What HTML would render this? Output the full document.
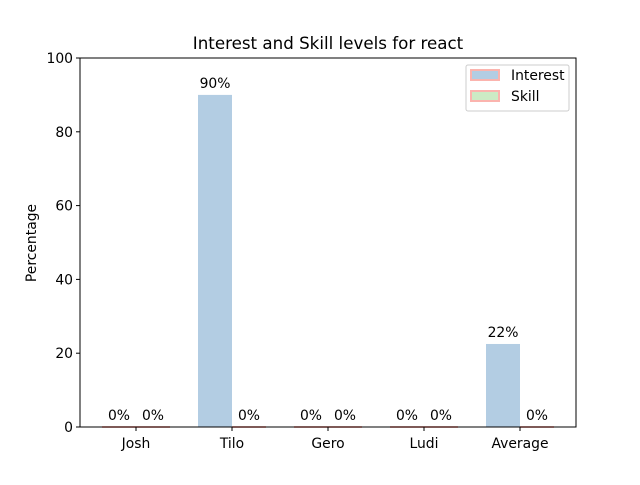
<!DOCTYPE html>
<html><head><meta charset="utf-8"><style>
body{margin:0;background:#fff}
text{font-family:"DejaVu Sans","Liberation Sans",sans-serif;fill:#000}
</style></head><body>
<svg width="640" height="480" xmlns="http://www.w3.org/2000/svg">
<rect width="640" height="480" fill="#fff"/>
<text x="328" y="49" font-size="16.7" text-anchor="middle">Interest and Skill levels for react</text>
<g id="bars"></g>
<g id="axes"></g>
<text transform="translate(36,243) rotate(-90)" font-size="13.9" text-anchor="middle">Percentage</text>
<g>
<rect x="466" y="65" width="103" height="46" fill="#fff" stroke="#ccc" rx="2"/>
<rect x="471" y="70" width="28" height="10" fill="#b3cde3" stroke="#fbb4ae" stroke-width="2"/>
<text x="511" y="80" font-size="13.9">Interest</text>
<rect x="471" y="91" width="28" height="10" fill="#ccebc5" stroke="#fbb4ae" stroke-width="2"/>
<text x="511" y="101" font-size="13.9">Skill</text>
</g>
<script>
const categories=["Josh","Tilo","Gero","Ludi","Average"];
const interest=[0,90,0,0,22.5];
const skill=[0,0,0,0,0];
const interestLabels=["0%","90%","0%","0%","22%"];
const skillLabels=["0%","0%","0%","0%","0%"];
const yTicks=[0,20,40,60,80,100];
const NS="http://www.w3.org/2000/svg";
const L=80,R=576,T=58,B=427;
const xs=i=>136+i*96;
const ys=v=>B-(v/100)*(B-T);
const bw=34;
function mk(tag,attrs,parent,txt){const e=document.createElementNS(NS,tag);for(const k in attrs)e.setAttribute(k,attrs[k]);if(txt!==undefined)e.textContent=txt;parent.appendChild(e);return e;}
const bars=document.getElementById('bars'),axes=document.getElementById('axes');
function drawBar(x0,v,fill,label,name){
  const y=ys(v);
  const r=mk('rect',{x:x0,y:y,width:bw,height:B-y,fill:fill},bars);
  
  
  if(v===0){mk('line',{x1:x0,x2:x0+bw,y1:B,y2:B,stroke:'#fbb4ae','stroke-width':2},bars);}
  const t=mk('text',{x:x0+bw/2,y:y-7,'font-size':13.9,'text-anchor':'middle'},bars,label);
  
  
}
categories.forEach((c,i)=>{
  drawBar(xs(i)-bw,interest[i],'#b3cde3',interestLabels[i],'bar-interest-'+c.toLowerCase());
  drawBar(xs(i),skill[i],'#ccebc5',skillLabels[i],'bar-skill-'+c.toLowerCase());
  mk('line',{x1:xs(i),x2:xs(i),y1:B,y2:B+4,stroke:'#000'},axes);
  const t=mk('text',{x:xs(i),y:B+21,'font-size':13.9,'text-anchor':'middle'},axes,c);
  
  
});
yTicks.forEach(v=>{
  mk('line',{x1:L-4,x2:L,y1:ys(v),y2:ys(v),stroke:'#000'},axes);
  const t=mk('text',{x:L-7,y:ys(v)+5,'font-size':13.9,'text-anchor':'end'},axes,String(v));
  
  
});
const f=mk('rect',{x:L,y:T,width:R-L,height:B-T,fill:'none',stroke:'#000','stroke-width':1},axes);


</script>
</svg>
</body></html>
